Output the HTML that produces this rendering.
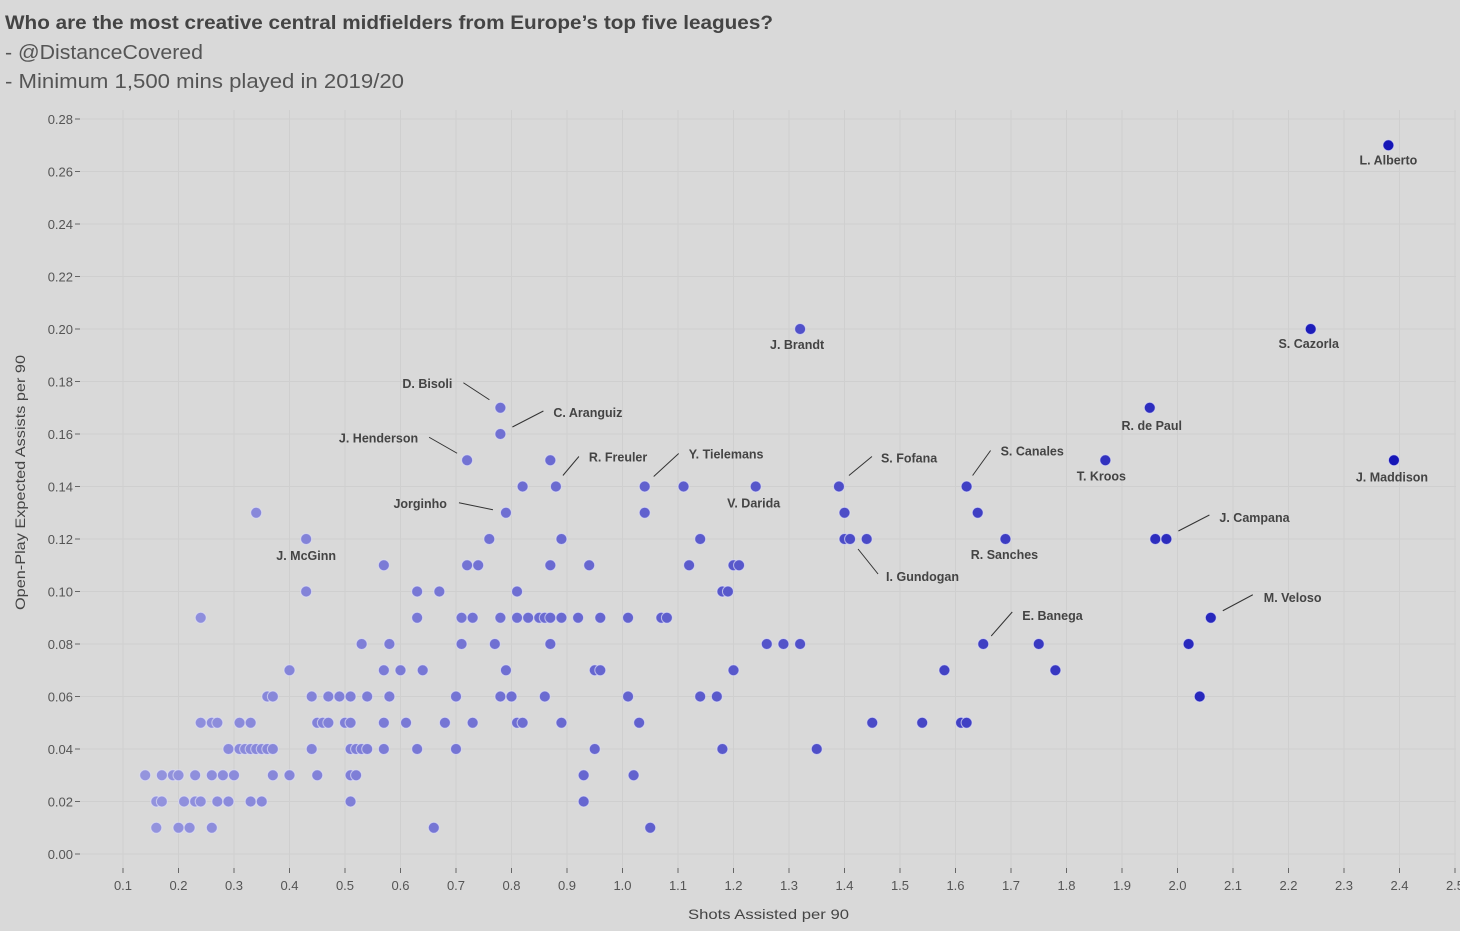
<!DOCTYPE html>
<html><head><meta charset="utf-8"><style>
body{margin:0;background:#d9d9d9;font-family:"Liberation Sans",sans-serif;}
svg{display:block}
</style></head><body>
<svg id="chart" width="1460" height="931" xmlns="http://www.w3.org/2000/svg">
<rect width="1460" height="931" fill="#d9d9d9"/>
<text x="5" y="29" font-size="19.5" font-weight="bold" fill="#444" textLength="768" lengthAdjust="spacingAndGlyphs">Who are the most creative central midfielders from Europe’s top five leagues?</text>
<text x="5" y="59" font-size="20" fill="#555" textLength="198" lengthAdjust="spacingAndGlyphs">- @DistanceCovered</text>
<text x="5" y="88" font-size="20" fill="#555" textLength="399" lengthAdjust="spacingAndGlyphs">- Minimum 1,500 mins played in 2019/20</text>
<g id="grid"></g><g id="axes"></g><g id="labels"></g><g id="points"></g>
<text x="688" y="919" font-size="14" fill="#444" textLength="161" lengthAdjust="spacingAndGlyphs">Shots Assisted per 90</text>
<text transform="translate(25,610) rotate(-90)" font-size="14" fill="#444" textLength="255" lengthAdjust="spacingAndGlyphs">Open-Play Expected Assists per 90</text>
</svg>
<script>
const xTicks=[0.1,0.2,0.3,0.4,0.5,0.6,0.7,0.8,0.9,1.0,1.1,1.2,1.3,1.4,1.5,1.6,1.7,1.8,1.9,2.0,2.1,2.2,2.3,2.4,2.5];
const yTicks=[0,0.02,0.04,0.06,0.08,0.10,0.12,0.14,0.16,0.18,0.20,0.22,0.24,0.26,0.28];
const xs=[0.14,0.17,0.19,0.20,0.23,0.26,0.28,0.30,0.37,0.40,0.45,0.51,0.52,0.93,1.02,
0.16,0.17,0.21,0.23,0.24,0.27,0.29,0.33,0.35,0.51,0.93,
0.16,0.20,0.22,0.26,0.66,1.05,
0.29,0.31,0.32,0.33,0.34,0.35,0.36,0.37,0.44,0.51,0.52,0.53,0.54,0.57,0.63,0.70,0.95,1.18,1.35,
0.24,0.26,0.27,0.31,0.33,0.45,0.46,0.47,0.50,0.51,0.57,0.61,0.68,0.73,0.81,0.82,0.89,1.03,1.45,1.54,1.61,1.62,
0.36,0.37,0.44,0.47,0.49,0.51,0.54,0.58,0.70,0.78,0.80,0.86,1.01,1.14,1.17,2.04,
0.40,0.57,0.60,0.64,0.79,0.95,0.96,1.20,1.58,1.78,
0.53,0.58,0.71,0.77,0.87,1.26,1.29,1.32,1.65,1.75,2.02,
0.24,0.63,0.71,0.73,0.78,0.81,0.83,0.85,0.86,0.87,0.89,0.92,0.96,1.01,1.07,1.08,2.06,
0.43,0.63,0.67,0.81,1.18,1.19,
0.57,0.72,0.74,0.87,0.94,1.12,1.20,1.21,
0.43,0.76,0.89,1.14,1.40,1.41,1.44,1.69,1.96,1.98,
0.34,0.79,1.04,1.40,1.64,
0.82,0.88,1.04,1.11,1.24,1.39,1.62,
0.72,0.87,1.87,2.39,
0.78,0.78,1.95,1.32,2.24,2.38];
const ys=[0.03,0.03,0.03,0.03,0.03,0.03,0.03,0.03,0.03,0.03,0.03,0.03,0.03,0.03,0.03,
0.02,0.02,0.02,0.02,0.02,0.02,0.02,0.02,0.02,0.02,0.02,
0.01,0.01,0.01,0.01,0.01,0.01,
0.04,0.04,0.04,0.04,0.04,0.04,0.04,0.04,0.04,0.04,0.04,0.04,0.04,0.04,0.04,0.04,0.04,0.04,0.04,
0.05,0.05,0.05,0.05,0.05,0.05,0.05,0.05,0.05,0.05,0.05,0.05,0.05,0.05,0.05,0.05,0.05,0.05,0.05,0.05,0.05,0.05,
0.06,0.06,0.06,0.06,0.06,0.06,0.06,0.06,0.06,0.06,0.06,0.06,0.06,0.06,0.06,0.06,
0.07,0.07,0.07,0.07,0.07,0.07,0.07,0.07,0.07,0.07,
0.08,0.08,0.08,0.08,0.08,0.08,0.08,0.08,0.08,0.08,0.08,
0.09,0.09,0.09,0.09,0.09,0.09,0.09,0.09,0.09,0.09,0.09,0.09,0.09,0.09,0.09,0.09,0.09,
0.10,0.10,0.10,0.10,0.10,0.10,
0.11,0.11,0.11,0.11,0.11,0.11,0.11,0.11,
0.12,0.12,0.12,0.12,0.12,0.12,0.12,0.12,0.12,0.12,
0.13,0.13,0.13,0.13,0.13,
0.14,0.14,0.14,0.14,0.14,0.14,0.14,
0.15,0.15,0.15,0.15,
0.17,0.16,0.17,0.20,0.20,0.27];
const names=["L. Alberto","S. Cazorla","J. Brandt","R. de Paul","T. Kroos","J. Maddison","R. Sanches","V. Darida","J. McGinn","D. Bisoli","C. Aranguiz","J. Henderson","Jorginho","R. Freuler","Y. Tielemans","S. Fofana","S. Canales","I. Gundogan","J. Campana","M. Veloso","E. Banega"];
const nameX=[2.38,2.24,1.32,1.95,1.87,2.39,1.69,1.24,0.43,0.78,0.78,0.72,0.79,0.88,1.04,1.39,1.62,1.41,1.98,2.06,1.65];
const nameY=[0.27,0.20,0.20,0.17,0.15,0.15,0.12,0.14,0.12,0.17,0.16,0.15,0.13,0.14,0.14,0.14,0.14,0.12,0.12,0.09,0.08];
const lay=[[0,19,"middle"],[-2,19,"middle"],[-3,20,"middle"],[2,22,"middle"],[-4,20,"middle"],[-2,21,"middle"],[-1,20,"middle"],[-2,21,"middle"],[0,21,"middle"],
[-48,-20,"end",-37,-25,-11,-8],[53,-17,"start",12,-7,43,-23],[-49,-18,"end",-38,-23,-10,-7],[-59,-5,"end",-47,-10,-13,-3],[33,-25,"start",7,-11,23,-30],[44,-28,"start",9,-10,34,-33],[42,-24,"start",10,-11,33,-30],[34,-31,"start",6,-11,24,-36],[36,42,"start",8,10,28,35],[53,-17,"start",12,-8,43,-24],[53,-16,"start",12,-7,42,-23],[39,-24,"start",8,-8,29,-32]];
const X=v=>123+(v-0.1)*555, Y=v=>854-v*2625;
const NS="http://www.w3.org/2000/svg";
function mk(t,a,p){const e=document.createElementNS(NS,t);for(const k in a)e.setAttribute(k,a[k]);p.appendChild(e);return e;}
const grid=document.getElementById('grid'),axes=document.getElementById('axes'),lbl=document.getElementById('labels'),pts=document.getElementById('points');
xTicks.forEach(v=>{const l=mk('line',{x1:X(v),x2:X(v),y1:110,y2:868,stroke:'#cfcfcf'},grid);


const t=mk('text',{x:X(v),y:890,'font-size':13,fill:'#555','text-anchor':'middle'},axes);t.textContent=v.toFixed(1);


mk('line',{x1:X(v),x2:X(v),y1:868,y2:873,stroke:'#666'},axes);});
yTicks.forEach(v=>{const l=mk('line',{x1:80,x2:1456,y1:Y(v),y2:Y(v),stroke:'#cfcfcf'},grid);


const t=mk('text',{x:73,y:Y(v)+5,'font-size':13,fill:'#555','text-anchor':'end'},axes);t.textContent=v.toFixed(2);


mk('line',{x1:75,x2:80,y1:Y(v),y2:Y(v),stroke:'#666'},axes);});
function col(v){const f=Math.min(1,Math.max(0,(v-0.1)/2.3));const r=Math.round(150-130*f),g=Math.round(150-130*f),b=Math.round(222-40*f);return `rgb(${r},${g},${b})`;}
xs.forEach((v,i)=>{const c=mk('circle',{cx:X(v),cy:Y(ys[i]),r:5.5,fill:col(v),stroke:'rgba(225,225,245,0.7)','stroke-width':1},pts);

});
names.forEach((n,i)=>{const px=X(nameX[i]),py=Y(nameY[i]),L=lay[i];
if(L.length>3){const ln=mk('line',{x1:px+L[3],y1:py+L[4],x2:px+L[5],y2:py+L[6],stroke:'#333','stroke-width':1},lbl);

}
const t=mk('text',{x:px+L[0],y:py+L[1],'font-size':12.5,'font-weight':'bold',fill:'#444','text-anchor':L[2]},lbl);t.textContent=n;

});
</script>
</body></html>
